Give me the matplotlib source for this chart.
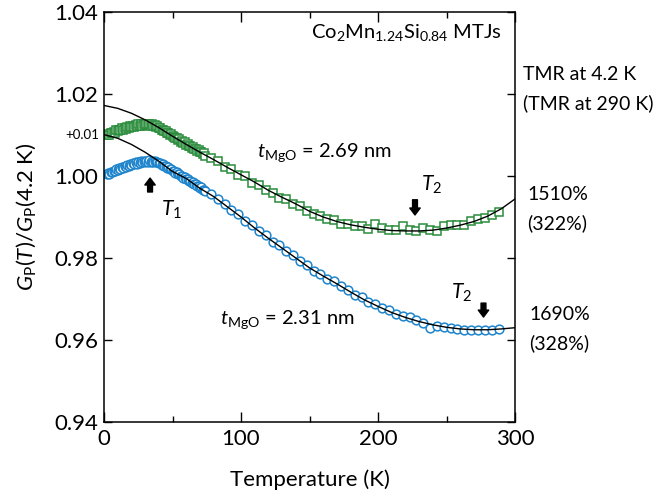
import numpy as np
import matplotlib.pyplot as plt

plt.rcParams['font.family'] = ['Lato', 'DejaVu Sans']
plt.rcParams['mathtext.fontset'] = 'custom'
plt.rcParams['mathtext.rm'] = 'Lato'
plt.rcParams['mathtext.it'] = 'Lato:italic'
plt.rcParams['mathtext.bf'] = 'Lato:bold'

# temperatures (K): dense low-T sweep, then every 5 K
T_low = list(range(2, 75))
T_high = list(range(78, 289, 5))
T_data = T_low + T_high

# t_MgO = 2.69 nm, shifted up by +0.01
green_low = [1.0100, 1.0103, 1.0101, 1.0106, 1.0104, 1.0108, 1.0106, 1.0111, 1.0109, 1.0113,
             1.0111, 1.0116, 1.0113, 1.0118, 1.0115, 1.0120, 1.0117, 1.0122, 1.0119, 1.0123,
             1.0120, 1.0125, 1.0121, 1.0126, 1.0122, 1.0127, 1.0123, 1.0127, 1.0124, 1.0128,
             1.0124, 1.0127, 1.0123, 1.0126, 1.0122, 1.0124, 1.0119, 1.0121, 1.0116, 1.0117,
             1.0112, 1.0113, 1.0109, 1.0110, 1.0105, 1.0106, 1.0101, 1.0102, 1.0097, 1.0096,
             1.0093, 1.0093, 1.0089, 1.0090, 1.0084, 1.0086, 1.0080, 1.0082, 1.0076, 1.0077,
             1.0073, 1.0074, 1.0069, 1.0071, 1.0066, 1.0067, 1.0062, 1.0063, 1.0058, 1.0059,
             1.0053, 1.0055, 1.0050]
green_high = [1.0045, 1.0036, 1.0022, 1.0017, 1.0003, 0.9999, 0.9984, 0.9978, 0.9966, 0.9958,
              0.9947, 0.9944, 0.9932, 0.9927, 0.9914, 0.9908, 0.9903, 0.9894, 0.9893, 0.9884,
              0.9884, 0.9877, 0.9879, 0.9871, 0.9883, 0.9874, 0.9869, 0.9868, 0.9877, 0.9869,
              0.9866, 0.9874, 0.9868, 0.9866, 0.9877, 0.9880, 0.9881, 0.9880, 0.9890, 0.9895,
              0.9898, 0.9906, 0.9913]

# t_MgO = 2.31 nm
blue_low = [1.0004, 1.0007, 1.0006, 1.0010, 1.0009, 1.0013, 1.0012, 1.0016, 1.0015, 1.0019,
            1.0018, 1.0022, 1.0020, 1.0024, 1.0023, 1.0027, 1.0025, 1.0029, 1.0027, 1.0031,
            1.0029, 1.0033, 1.0030, 1.0034, 1.0032, 1.0036, 1.0033, 1.0037, 1.0034, 1.0037,
            1.0035, 1.0038, 1.0034, 1.0037, 1.0035, 1.0036, 1.0033, 1.0035, 1.0031, 1.0032,
            1.0028, 1.0029, 1.0024, 1.0025, 1.0020, 1.0021, 1.0016, 1.0017, 1.0012, 1.0012,
            1.0008, 1.0009, 1.0004, 1.0005, 1.0000, 1.0001, 0.9996, 0.9997, 0.9992, 0.9992,
            0.9988, 0.9989, 0.9984, 0.9985, 0.9980, 0.9980, 0.9976, 0.9976, 0.9971, 0.9972,
            0.9967, 0.9967, 0.9963]
blue_high = [0.9957, 0.9943, 0.9932, 0.9917, 0.9907, 0.9891, 0.9880, 0.9865, 0.9855, 0.9840,
             0.9831, 0.9816, 0.9807, 0.9792, 0.9783, 0.9769, 0.9762, 0.9750, 0.9744, 0.9731,
             0.9723, 0.9710, 0.9704, 0.9692, 0.9688, 0.9677, 0.9673, 0.9664, 0.9659, 0.9655,
             0.9649, 0.9642, 0.9629, 0.9635, 0.9631, 0.9629, 0.9627, 0.9625, 0.9624, 0.9625,
             0.9624, 0.9624, 0.9626]

green_data = green_low + green_high
blue_data = blue_low + blue_high

# fitted curves
T_fit = list(range(0, 301, 10))
green_fit = [1.0172, 1.0165, 1.0153, 1.0137, 1.0118, 1.0097, 1.0077, 1.0058, 1.0040, 1.0021,
             1.0003, 0.9985, 0.9965, 0.9948, 0.9932, 0.9914, 0.9900, 0.9889, 0.9881, 0.9875,
             0.9870, 0.9867, 0.9866, 0.9866, 0.9868, 0.9873, 0.9880, 0.9889, 0.9902, 0.9920,
             0.9944]
blue_fit = [1.0101, 1.0092, 1.0077, 1.0058, 1.0036, 1.0011, 0.9994, 0.9970, 0.9950, 0.9925,
            0.9900, 0.9873, 0.9848, 0.9824, 0.9800, 0.9776, 0.9756, 0.9737, 0.9717, 0.9698,
            0.9682, 0.9667, 0.9655, 0.9645, 0.9637, 0.9631, 0.9627, 0.9625, 0.9625, 0.9627,
            0.9630]

GREEN = '#2a8c3c'
BLUE = '#1e84cc'

fig = plt.figure(figsize=(6.6, 4.98), dpi=100)
ax = fig.add_axes([0.1576, 0.1526, 0.6227, 0.8233])

ax.plot(T_data, green_data, ls='none', marker='s', ms=5.8, mfc='white', mec=GREEN, mew=1.1, zorder=2)
ax.plot(T_data, blue_data, ls='none', marker='o', ms=6.3, mfc='white', mec=BLUE, mew=1.1, zorder=2)
ax.plot(T_fit, green_fit, color='black', lw=1.0, zorder=3)
ax.plot(T_fit, blue_fit, color='black', lw=1.0, zorder=3)

ax.set_xlim(0, 300)
ax.set_ylim(0.94, 1.04)
ax.set_xticks([0, 100, 200, 300])
ax.set_xticks([50, 150, 250], minor=True)
ax.set_yticks([0.94, 0.96, 0.98, 1.00, 1.02, 1.04])
ax.set_yticklabels(['0.94', '0.96', '0.98', '1.00', '1.02', '1.04'])
ax.tick_params(axis='both', which='both', direction='in', top=True, right=True, labelsize=16, width=1.0)
ax.tick_params(axis='x', which='major', length=7, pad=5)
ax.tick_params(axis='x', which='minor', length=4)
ax.tick_params(axis='y', which='major', length=5.5, pad=4)
for sp in ax.spines.values():
    sp.set_linewidth(1.1)

ax.set_xlabel('Temperature (K)', fontsize=16, labelpad=15)
ax.set_ylabel(r'$G_\mathrm{P}(T)/G_\mathrm{P}$(4.2 K)', fontsize=16, labelpad=12)

ax.text(0.968, 0.949, r'Co$_2$Mn$_{1.24}$Si$_{0.84}$ MTJs', transform=ax.transAxes,
        ha='right', va='center', fontsize=14.5)
ax.text(111.5, 1.0058, r'$t_\mathrm{MgO}$ = 2.69 nm', ha='left', va='center', fontsize=14.5)
ax.text(84.5, 0.9649, r'$t_\mathrm{MgO}$ = 2.31 nm', ha='left', va='center', fontsize=14.5)
ax.text(49.4, 0.9917, r'$T_1$', ha='center', va='center', fontsize=15)
ax.text(239, 0.9978, r'$T_2$', ha='center', va='center', fontsize=15)
ax.text(261, 0.9714, r'$T_2$', ha='center', va='center', fontsize=15)

# black block arrows marking T1 and T2
arrow = dict(arrowstyle='simple,head_width=0.75,head_length=0.5,tail_width=0.35',
             fc='black', ec='black', mutation_scale=10, shrinkA=0, shrinkB=0)
ax.annotate('', xy=(33.6, 0.9995), xytext=(33.6, 0.9961), arrowprops=arrow)
ax.annotate('', xy=(227, 0.9905), xytext=(227, 0.9942), arrowprops=arrow)
ax.annotate('', xy=(277, 0.9656), xytext=(277, 0.9690), arrowprops=arrow)

ax.text(-0.012, 1.0100, '+0.01', transform=ax.get_yaxis_transform(), ha='right', va='center', fontsize=9.5)

fig.text(523 / 660, 1 - 75 / 498, 'TMR at 4.2 K', ha='left', va='center', fontsize=14)
fig.text(523 / 660, 1 - 103 / 498, '(TMR at 290 K)', ha='left', va='center', fontsize=14)
fig.text(527 / 660, 1 - 195 / 498, '1510%', ha='left', va='center', fontsize=14)
fig.text(527 / 660, 1 - 223 / 498, '(322%)', ha='left', va='center', fontsize=14)
fig.text(529 / 660, 1 - 315 / 498, '1690%', ha='left', va='center', fontsize=14)
fig.text(529 / 660, 1 - 343 / 498, '(328%)', ha='left', va='center', fontsize=14)

fig.savefig('out.png', dpi=100)
